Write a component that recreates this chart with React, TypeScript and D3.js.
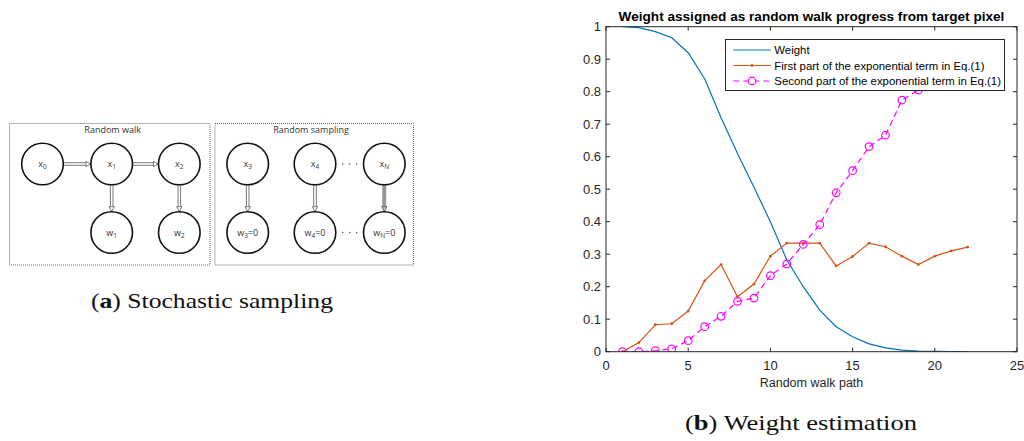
import React from "react";
import * as d3 from "d3";

// ---------- Data ----------
const steps = [1, 2, 3, 4, 5, 6, 7, 8, 9, 10, 11, 12, 13, 14, 15, 16, 17, 18, 19, 20, 21, 22];
const weight = [1.0, 0.997, 0.985, 0.966, 0.92, 0.84, 0.72, 0.61, 0.506, 0.40, 0.282, 0.20, 0.128, 0.077, 0.046, 0.024, 0.012, 0.005, 0.002, 0.001, 0.0, 0.0];
const firstPart = [0.0, 0.028, 0.083, 0.086, 0.125, 0.218, 0.268, 0.169, 0.208, 0.294, 0.334, 0.334, 0.334, 0.264, 0.293, 0.334, 0.323, 0.294, 0.268, 0.294, 0.31, 0.322];
const secondSteps = [1, 2, 3, 4, 5, 6, 7, 8, 9, 10, 11, 12, 13, 14, 15, 16, 17, 18, 19];
const secondPart = [0.0, 0.0, 0.003, 0.009, 0.034, 0.077, 0.109, 0.155, 0.165, 0.234, 0.27, 0.33, 0.391, 0.489, 0.557, 0.631, 0.666, 0.774, 0.805];
const xTicks = [0, 5, 10, 15, 20, 25];
const yTicks = [0, 0.1, 0.2, 0.3, 0.4, 0.5, 0.6, 0.7, 0.8, 0.9, 1];
const legendLabels = [
  "Weight",
  "First part of the exponential term in Eq.(1)",
  "Second part of the exponential term in Eq.(1)",
];
const chartTitle = "Weight assigned as random walk progress from target pixel";
const xLabel = "Random walk path";

// diagram nodes
const walkNodes = [
  { id: "x0", label: "x", sub: "0", col: 0, row: 0 },
  { id: "x1", label: "x", sub: "1", col: 1, row: 0 },
  { id: "x2", label: "x", sub: "2", col: 2, row: 0 },
  { id: "w1", label: "w", sub: "1", col: 1, row: 1 },
  { id: "w2", label: "w", sub: "2", col: 2, row: 1 },
];
const sampleNodes = [
  { id: "x3", label: "x", sub: "3", suffix: "", col: 0, row: 0 },
  { id: "x4", label: "x", sub: "4", suffix: "", col: 1, row: 0 },
  { id: "xN", label: "x", sub: "N", suffix: "", col: 2, row: 0 },
  { id: "w3", label: "w", sub: "3", suffix: "=0", col: 0, row: 1 },
  { id: "w4", label: "w", sub: "4", suffix: "=0", col: 1, row: 1 },
  { id: "wN", label: "w", sub: "N", suffix: "=0", col: 2, row: 1 },
];

const BLUE = "#0072BD";
const ORANGE = "#D95319";
const MAGENTA = "#FF00FF";
const AX = "#262626";
const SERIF = "Liberation Serif, Times New Roman, serif";

function NodeLabel({ x, y, label, sub, suffix }: any) {
  return (
    <text x={x} y={y + 3} textAnchor="middle" fontFamily="'Open Sans', 'Liberation Sans', sans-serif" fontSize={9} fill="#333">
      {label}
      <tspan fontSize={6.5} dy={2}>{sub}</tspan>
      {suffix ? <tspan dy={-2}>{suffix}</tspan> : null}
    </text>
  );
}

function HArrow({ x1, x2, y }: any) {
  const head = 5;
  return (
    <g stroke="#555" strokeWidth={0.8} fill="none">
      <line x1={x1} y1={y - 1.3} x2={x2 - head} y2={y - 1.3} />
      <line x1={x1} y1={y + 1.3} x2={x2 - head} y2={y + 1.3} />
      <path d={`M${x2 - head},${y - 2.6} L${x2},${y} L${x2 - head},${y + 2.6} Z`} fill="white" />
    </g>
  );
}

function VArrow({ x, y1, y2, filled }: any) {
  const head = 5;
  return (
    <g stroke="#555" strokeWidth={0.8} fill="none">
      {filled ? (
        <rect x={x - 1.5} y={y1} width={3} height={y2 - head - y1} fill="#999" stroke="#888" />
      ) : (
        <>
          <line x1={x - 1.3} y1={y1} x2={x - 1.3} y2={y2 - head} />
          <line x1={x + 1.3} y1={y1} x2={x + 1.3} y2={y2 - head} />
        </>
      )}
      <path d={`M${x - 2.6},${y2 - head} L${x},${y2} L${x + 2.6},${y2 - head} Z`} fill={filled ? "#bbb" : "white"} />
    </g>
  );
}

function Dots({ x1, x2, y }: any) {
  const xs = d3.range(3).map((i) => x1 + ((i + 1) * (x2 - x1)) / 4);
  return (
    <g>
      {xs.map((x, i) => (
        <circle key={i} cx={x} cy={y} r={0.8} fill="#555" />
      ))}
    </g>
  );
}

function Diagram() {
  const r = 20.8;
  const rowY = [164, 232.5];
  const walkX = [42.5, 111.7, 179.3];
  const sampX = [247.7, 315, 384.3];
  return (
    <g>
      <rect x={9.5} y={123.5} width={200.5} height={141.5} fill="none" stroke="#666" strokeWidth={1} strokeDasharray="1,1" />
      <rect x={215} y={123.5} width={198.5} height={141.5} fill="none" stroke="#666" strokeWidth={1} strokeDasharray="1,1" />
      <text x={112.7} y={133} textAnchor="middle" fontFamily="'Open Sans', 'Liberation Sans', sans-serif" fontSize={9} fill="#333">Random walk</text>
      <text x={311} y={133} textAnchor="middle" fontFamily="'Open Sans', 'Liberation Sans', sans-serif" fontSize={9} fill="#333">Random sampling</text>
      <HArrow x1={walkX[0] + r} x2={walkX[1] - r} y={rowY[0]} />
      <HArrow x1={walkX[1] + r} x2={walkX[2] - r} y={rowY[0]} />
      <VArrow x={walkX[1]} y1={rowY[0] + r} y2={rowY[1] - r} />
      <VArrow x={walkX[2]} y1={rowY[0] + r} y2={rowY[1] - r} />
      <VArrow x={sampX[0]} y1={rowY[0] + r} y2={rowY[1] - r} />
      <VArrow x={sampX[1]} y1={rowY[0] + r} y2={rowY[1] - r} />
      <VArrow x={sampX[2]} y1={rowY[0] + r} y2={rowY[1] - r} filled />
      <Dots x1={sampX[1] + r} x2={sampX[2] - r} y={rowY[0]} />
      <Dots x1={sampX[1] + r} x2={sampX[2] - r} y={rowY[1]} />
      {walkNodes.map((n) => (
        <g key={n.id}>
          <circle cx={walkX[n.col]} cy={rowY[n.row]} r={r} fill="white" stroke="#111" strokeWidth={1.6} />
          <NodeLabel x={walkX[n.col]} y={rowY[n.row]} label={n.label} sub={n.sub} />
        </g>
      ))}
      {sampleNodes.map((n) => (
        <g key={n.id}>
          <circle cx={sampX[n.col]} cy={rowY[n.row]} r={r} fill="white" stroke="#111" strokeWidth={1.6} />
          <NodeLabel x={sampX[n.col]} y={rowY[n.row]} label={n.label} sub={n.sub} suffix={n.suffix} />
        </g>
      ))}
      <text x={212} y={308} textAnchor="middle" fontFamily={SERIF} fontSize={21} fill="#111" textLength={242} lengthAdjust="spacingAndGlyphs">
        (<tspan fontWeight="bold">a</tspan>) Stochastic sampling
      </text>
    </g>
  );
}

function Chart() {
  const left = 606, right = 1017, top = 26.7, bottom = 351.7;
  const x = d3.scaleLinear().domain([0, 25]).range([left, right]);
  const y = d3.scaleLinear().domain([0, 1]).range([bottom, top]);
  const line = d3.line<[number, number]>().x((d) => x(d[0])).y((d) => y(d[1]));
  const wPts = steps.map((s, i) => [s, weight[i]] as [number, number]);
  const fPts = steps.map((s, i) => [s, firstPart[i]] as [number, number]);
  const sPts = secondSteps.map((s, i) => [s, secondPart[i]] as [number, number]);
  const tl = 4;
  const font = "'Liberation Sans', Arial, sans-serif";

  const lg = { x: 725.5, y: 39.5, w: 279, h: 51 };
  const rowsY = [50, 65.5, 81];

  return (
    <g>
      <defs>
        <clipPath id="plotclip">
          <rect x={left} y={top} width={right - left} height={bottom - top} />
        </clipPath>
      </defs>
      <rect x={left} y={top} width={right - left} height={bottom - top} fill="white" />
      <g clipPath="url(#plotclip)">
        <path d={line(wPts) || ""} fill="none" stroke={BLUE} strokeWidth={1.2} />
        <path d={line(fPts) || ""} fill="none" stroke={ORANGE} strokeWidth={1.2} />
        {fPts.map((p, i) => (
          <circle key={i} cx={x(p[0])} cy={y(p[1])} r={1.4} fill={ORANGE} />
        ))}
        <path d={line(sPts) || ""} fill="none" stroke={MAGENTA} strokeWidth={1.2} strokeDasharray="6,4" />
        {sPts.map((p, i) => (
          <circle key={i} cx={x(p[0])} cy={y(p[1])} r={3.8} fill="none" stroke={MAGENTA} strokeWidth={1.2} />
        ))}
      </g>
      <rect x={left} y={top} width={right - left} height={bottom - top} fill="none" stroke={AX} strokeWidth={1} />
      {xTicks.map((t) => (
        <g key={"x" + t}>
          <line x1={x(t)} x2={x(t)} y1={bottom} y2={bottom - tl} stroke={AX} />
          <line x1={x(t)} x2={x(t)} y1={top} y2={top + tl} stroke={AX} />
          <text x={x(t)} y={370} textAnchor="middle" fontFamily={font} fontSize={13} fill={AX}>{t}</text>
        </g>
      ))}
      {yTicks.map((t) => (
        <g key={"y" + t}>
          <line x1={left} x2={left + tl} y1={y(t)} y2={y(t)} stroke={AX} />
          <line x1={right} x2={right - tl} y1={y(t)} y2={y(t)} stroke={AX} />
          <text x={601} y={y(t) + 4.5} textAnchor="end" fontFamily={font} fontSize={13} fill={AX}>{t}</text>
        </g>
      ))}
      <text x={(left + right) / 2} y={20.5} textAnchor="middle" fontFamily={font} fontSize={13.6} fontWeight="bold" fill="#000">{chartTitle}</text>
      <text x={(left + right) / 2} y={387} textAnchor="middle" fontFamily={font} fontSize={12.5} fill={AX}>{xLabel}</text>
      <rect x={lg.x} y={lg.y} width={lg.w} height={lg.h} fill="white" stroke={AX} strokeWidth={1} />
      <line x1={733.3} x2={770.7} y1={rowsY[0]} y2={rowsY[0]} stroke={BLUE} strokeWidth={1.2} />
      <line x1={733.3} x2={770.7} y1={rowsY[1]} y2={rowsY[1]} stroke={ORANGE} strokeWidth={1.2} />
      <circle cx={752} cy={rowsY[1]} r={1.4} fill={ORANGE} />
      <line x1={733.3} x2={770.7} y1={rowsY[2]} y2={rowsY[2]} stroke={MAGENTA} strokeWidth={1.2} strokeDasharray="6,4" />
      <circle cx={752} cy={rowsY[2]} r={3.8} fill="white" stroke={MAGENTA} strokeWidth={1.2} />
      {legendLabels.map((l, i) => (
        <text key={l} x={774.3} y={rowsY[i] + 4.2} fontFamily={font} fontSize={11.4} fill="#000">{l}</text>
      ))}
      <text x={801} y={430} textAnchor="middle" fontFamily={SERIF} fontSize={21} fill="#111" textLength={232} lengthAdjust="spacingAndGlyphs">
        (<tspan fontWeight="bold">b</tspan>)  Weight estimation
      </text>
    </g>
  );
}

export default function App() {
  return (
    <svg width={1024} height={441} style={{ position: "absolute", left: 0, top: 0, background: "white" }}>
      <rect width={1024} height={441} fill="white" />
      <Diagram />
      <Chart />
    </svg>
  );
}
